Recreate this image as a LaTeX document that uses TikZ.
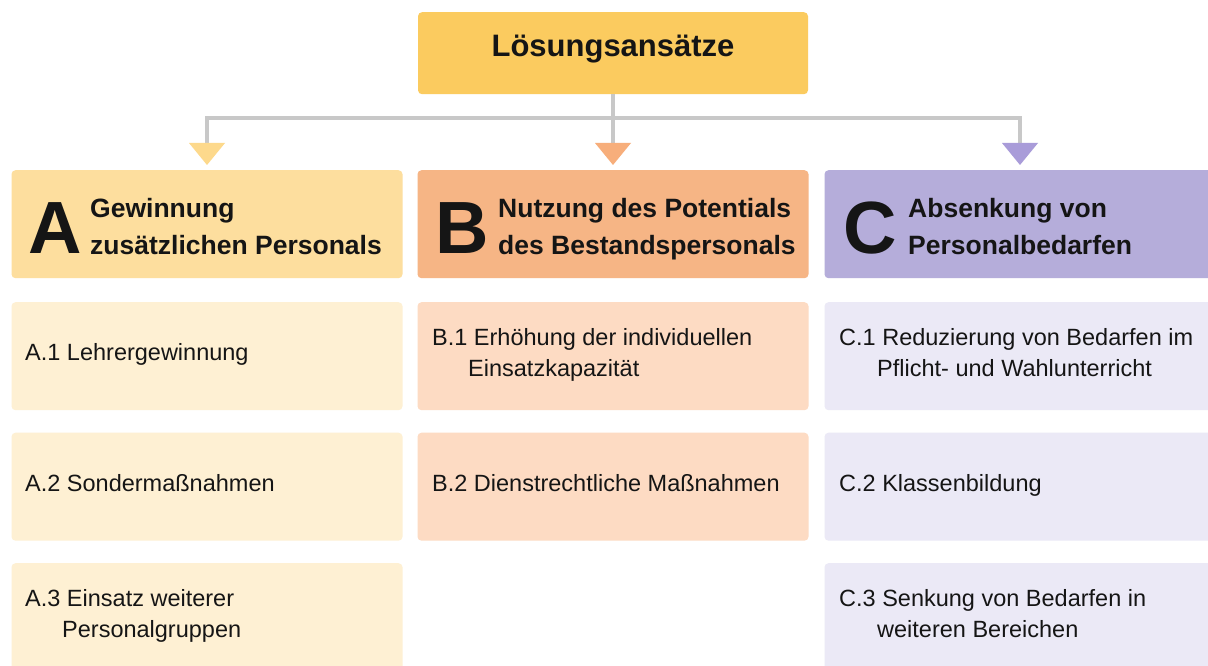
\documentclass[tikz,border=0pt]{standalone}
\usepackage{fontspec}
\setmainfont{Liberation Sans}
\usetikzlibrary{arrows.meta}
\definecolor{topC}{HTML}{FBCB5F}
\definecolor{hdrA}{HTML}{FDDE9E}
\definecolor{hdrB}{HTML}{F6B585}
\definecolor{hdrC}{HTML}{B5ADDA}
\definecolor{itmA}{HTML}{FEF0D3}
\definecolor{itmB}{HTML}{FDDBC3}
\definecolor{itmC}{HTML}{EBE9F6}
\definecolor{triA}{HTML}{FDD98C}
\definecolor{triB}{HTML}{F7AE7B}
\definecolor{triC}{HTML}{A99CD9}
\definecolor{lineC}{HTML}{C8C8C8}
\definecolor{txtC}{HTML}{151515}
\begin{document}
\begin{tikzpicture}[x=1pt,y=-1pt,
  box/.style={rounded corners=4pt, minimum width=391pt, minimum height=108pt, inner sep=0pt, anchor=north, draw=none},
  toptext/.style={anchor=base, inner sep=0pt, text=txtC, font=\fontsize{31}{31}\selectfont\bfseries},
  bigletter/.style={anchor=base west, inner sep=0pt, text=txtC, font=\fontsize{74}{74}\selectfont\bfseries},
  htitle/.style={anchor=base west, inner sep=0pt, text=txtC, font=\fontsize{26.5}{37}\selectfont\bfseries},
  itext/.style={anchor=base west, inner sep=0pt, text=txtC, font=\fontsize{23.5}{31}\selectfont},
  conn/.style={draw=lineC, line width=4pt},
  tipA/.style={-{Triangle[length=22pt,width=36pt,color=#1,line width=0pt]}, shorten >=0pt}
]
\useasboundingbox (0,0) rectangle (1208,666);
\clip (0,0) rectangle (1208,666);
\fill[white] (0,0) rectangle (1208,666);

% top
\node[box, fill=topC, minimum width=390pt, minimum height=82pt] (top) at (613,12) {};
\node[toptext] (toptxt) at (613,57) {Lösungsansätze};

% headers
\node[box, fill=hdrA] (hA) at (207,170) {};
\node[box, fill=hdrB] (hB) at (613,170) {};
\node[box, fill=hdrC] (hC) at (1020,170) {};

\node[bigletter] (lA) at (28,253) {A};
\node[bigletter] (lB) at (435,253) {B};
\node[bigletter] (lC) at (843,253) {C};

\node[htitle] (tA) at (90,217) {\begin{tabular}[t]{@{}l@{}}Gewinnung\\zusätzlichen Personals\end{tabular}};
\node[htitle] (tB) at (498,217) {\begin{tabular}[t]{@{}l@{}}Nutzung des Potentials\\des Bestandspersonals\end{tabular}};
\node[htitle] (tC) at (908,217) {\begin{tabular}[t]{@{}l@{}}Absenkung von\\Personalbedarfen\end{tabular}};

% connectors
\draw[conn, tipA=triA] (top.south) -- ++(0,24) -| ([yshift=5pt]hA.north);
\draw[conn, tipA=triB] (top.south) -- ([yshift=5pt]hB.north);
\draw[conn, tipA=triC] (top.south) -- ++(0,24) -| ([yshift=5pt]hC.north);

% items column A
\node[box, fill=itmA] (a1) at (207,302) {};
\node[box, fill=itmA] (a2) at (207,432.5) {};
\node[box, fill=itmA] (a3) at (207,563) {};
\node[itext] (a1t) at (25,360.5) {A.1 Lehrergewinnung};
\node[itext] (a2t) at (25,491) {A.2 Sondermaßnahmen};
\node[itext] (a3t) at (25,606) {\begin{tabular}[t]{@{}l@{}}A.3 Einsatz weiterer\\\hspace*{37pt}Personalgruppen\end{tabular}};

% items column B
\node[box, fill=itmB] (b1) at (613,302) {};
\node[box, fill=itmB] (b2) at (613,432.5) {};
\node[itext] (b1t) at (432,345) {\begin{tabular}[t]{@{}l@{}}B.1 Erhöhung der individuellen\\\hspace*{36pt}Einsatzkapazität\end{tabular}};
\node[itext] (b2t) at (432,491) {B.2 Dienstrechtliche Maßnahmen};

% items column C
\node[box, fill=itmC] (c1) at (1020,302) {};
\node[box, fill=itmC] (c2) at (1020,432.5) {};
\node[box, fill=itmC] (c3) at (1020,563) {};
\node[itext] (c1t) at (839,345) {\begin{tabular}[t]{@{}l@{}}C.1 Reduzierung von Bedarfen im\\\hspace*{38pt}Pflicht- und Wahlunterricht\end{tabular}};
\node[itext] (c2t) at (839,491) {C.2 Klassenbildung};
\node[itext] (c3t) at (839,606) {\begin{tabular}[t]{@{}l@{}}C.3 Senkung von Bedarfen in\\\hspace*{38pt}weiteren Bereichen\end{tabular}};
\end{tikzpicture}
\end{document}
